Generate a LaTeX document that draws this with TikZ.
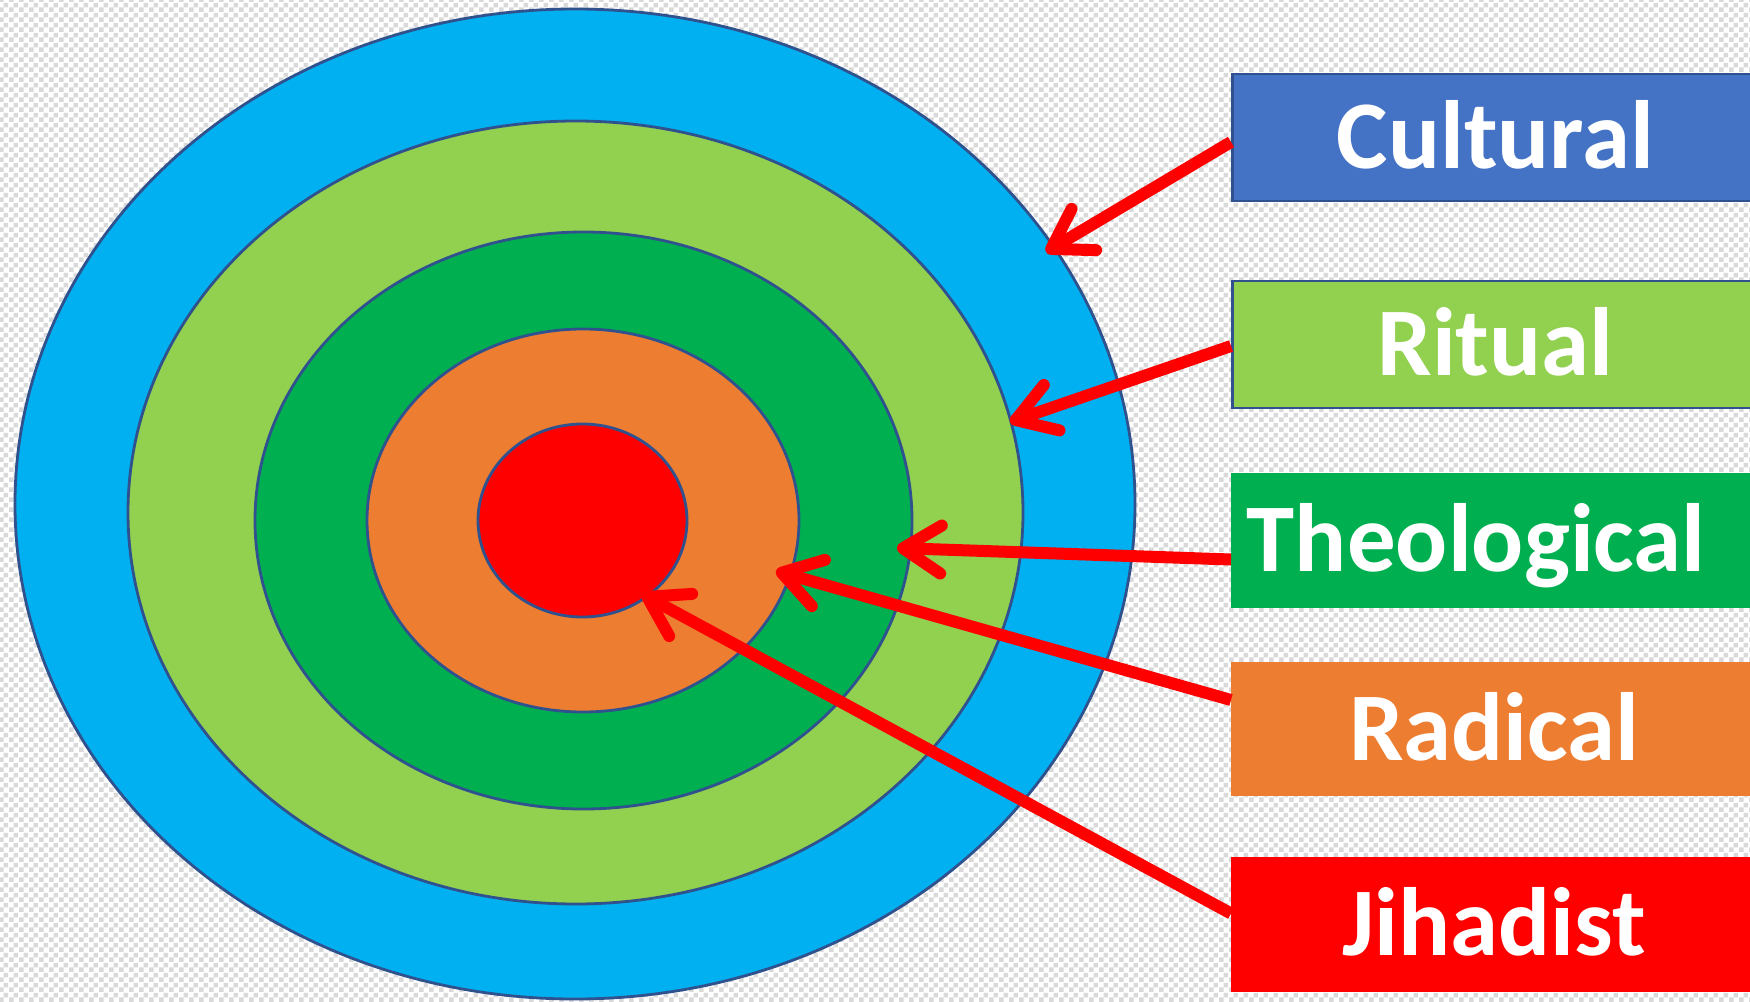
\documentclass[tikz,border=0pt]{standalone}
\usepackage{fontspec}
\setmainfont{Carlito}
\usetikzlibrary{arrows.meta,patterns.meta}
\definecolor{cBlue}{HTML}{00B0F0}
\definecolor{cLight}{HTML}{92D050}
\definecolor{cGreen}{HTML}{00B050}
\definecolor{cOrange}{HTML}{ED7D31}
\definecolor{cRed}{HTML}{FF0000}
\definecolor{cBox}{HTML}{4472C4}
\definecolor{cEdge}{HTML}{2F528F}
\definecolor{chkgray}{HTML}{D9D9D9}
\tikzdeclarepattern{
  name=chk, type=uncolored,
  bounding box={(0pt,0pt) and (10pt,10pt)},
  tile size={(10pt,10pt)},
  code={\fill (0pt,0pt) rectangle (5pt,5pt); \fill (5pt,5pt) rectangle (10pt,10pt);}
}
\begin{document}
\begin{tikzpicture}[x=1pt,y=-1pt,
  ring/.style={draw=cEdge, line width=2.8pt},
  label box/.style={rectangle, inner sep=0pt, minimum width=526pt, anchor=west,
    text=white, font=\bfseries\fontsize{97pt}{100pt}\selectfont,
    text height=62pt, text depth=0pt},
  arr/.style={draw=cRed, line width=12pt,
    -{Straight Barb[length=38pt, width=48pt, round]}}
]
\useasboundingbox (0,0) rectangle (1750,1001);
\clip (0,0) rectangle (1750,1001);
\fill[white] (0,0) rectangle (1750,1001);
\fill[pattern=chk, pattern color=chkgray] (0,0) rectangle (1750,1001);

% concentric ellipses
\draw[ring, fill=cBlue]   (575,504)     ellipse [x radius=560,   y radius=495];
\draw[ring, fill=cLight]  (575.5,512.5) ellipse [x radius=447.5, y radius=391.5];
\draw[ring, fill=cGreen]  (583.5,520.5) ellipse [x radius=328.5, y radius=288.5];
\draw[ring, fill=cOrange] (583,520.5)   ellipse [x radius=216,   y radius=191.5];
\draw[ring, fill=cRed]    (582.5,520.5) ellipse [x radius=104.5, y radius=96.5];

% arrow targets
\coordinate (tCult) at (1046,252);
\coordinate (tRit)  at (1010,422);
\coordinate (tTheo) at (897,548);
\coordinate (tRad)  at (776,571);
\coordinate (tJih)  at (642,594);

% label boxes
\node[label box, fill=cBox, draw=cEdge, line width=2.8pt, minimum height=127pt] (cult) at (1231,137.5) {Cultural};
\node[label box, fill=cLight, draw=cEdge, line width=2.8pt, minimum height=127pt] (rit) at (1231,344.5) {Ritual};
\node[label box, fill=cGreen, minimum height=135pt] (theo) at (1231,540.5) {Theological\hspace*{36pt}};
\node[label box, fill=cOrange, minimum height=134pt] (rad) at (1231,729) {Radical};
\node[label box, fill=cRed, minimum height=135pt] (jih) at (1231,924.5) {Jihadist};

% arrows
\draw[arr] ([yshift=-4.5pt]cult.west) -- (tCult);
\draw[arr] ([yshift=-1.5pt]rit.west) -- (tRit);
\draw[arr] ([yshift=-19pt]theo.west) -- (tTheo);
\draw[arr] ([yshift=29pt]rad.west) -- (tRad);
\draw[arr] ([yshift=11pt]jih.west) -- (tJih);
\end{tikzpicture}
\end{document}
